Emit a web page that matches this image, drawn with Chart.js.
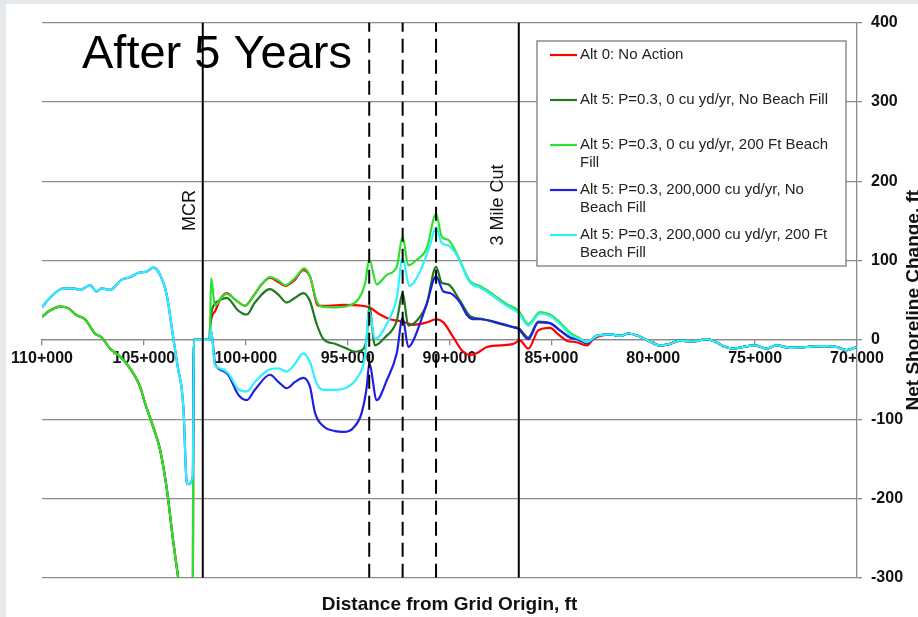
<!DOCTYPE html>
<html>
<head>
<meta charset="utf-8">
<title>Net Shoreline Change - After 5 Years</title>
<script src="https://cdn.jsdelivr.net/npm/chart.js@4.4.1/dist/chart.umd.min.js"></script>
<style>
    html, body { margin: 0; padding: 0; }
    body { width: 918px; height: 617px; background: #e6e9eb; overflow: hidden; }
    #wrap { position: absolute; left: 6px; top: 4px; width: 912px; height: 613px; background: #fff; }
</style>
</head>
<body>
<div id="wrap"><canvas id="shoreChart"></canvas></div>
<script>
// Stations in thousands of feet from grid origin, values = net shoreline change (ft)

// North of the MCR: shared by the 0 cu yd/yr runs (and no action)
const westErosion = [
    [110.0, 29], [109.61, 37], [109.12, 42], [108.71, 40], [108.30, 31], [107.89, 26],
    [107.40, 8], [107.07, 3], [106.66, -11], [106.17, -21], [105.68, -36], [105.19, -59],
    [104.94, -80], [104.62, -104], [104.21, -138], [103.88, -187], [103.56, -254],
    [103.31, -301], [102.79, -400], [102.60, -400], [102.57, 0], [101.77, 0]
];

// North of the MCR: shared by the 200,000 cu yd/yr runs
const westAccretion = [
    [110.0, 41], [109.61, 53], [108.95, 65], [108.46, 65], [108.13, 63], [107.64, 69],
    [107.32, 61], [107.07, 65], [106.66, 63], [106.09, 76], [105.68, 79], [105.19, 85],
    [104.86, 86], [104.54, 91], [104.29, 86], [103.88, 57], [103.56, 3], [103.31, -38],
    [103.15, -60], [103.05, -90], [102.90, -179], [102.82, -182], [102.60, -173],
    [102.54, 0], [101.77, 0]
];

const alt0Main = [
    [101.75, 16], [101.51, 36], [101.26, 51], [100.94, 59], [100.53, 51], [100.04, 43],
    [99.63, 55], [99.22, 70], [98.81, 78], [98.40, 73], [98.07, 68], [97.58, 76],
    [97.18, 88], [96.85, 80], [96.44, 43], [95.95, 43], [95.21, 44], [94.31, 43],
    [93.94, 41], [93.41, 32], [92.92, 26], [92.30, 23], [91.78, 19], [91.12, 22],
    [90.66, 26], [90.30, 22], [89.81, 3], [89.40, -13], [88.99, -19], [88.67, -17],
    [88.17, -9], [87.52, -7], [86.87, -5], [86.54, -1], [86.13, -11], [85.64, 12],
    [85.07, 15], [84.66, 7], [84.25, -1], [83.76, -3], [83.27, -7], [82.94, 1], [82.61, 5]
];

const noFillMain = [
    [101.75, 16], [101.60, 42], [101.34, 49], [100.94, 53], [100.37, 37], [99.95, 32],
    [99.55, 47], [98.81, 64], [98.40, 57], [97.99, 47], [97.58, 53], [97.18, 59],
    [96.85, 49], [96.52, 20], [96.19, 1], [95.62, -5], [95.04, -11], [94.64, -15],
    [94.31, -13], [94.06, 3], [93.94, 43], [93.66, -7], [93.17, 3], [92.59, 24],
    [92.30, 59], [92.02, 18], [91.61, 24], [91.12, 45], [90.66, 92], [90.38, 72],
    [90.06, 70], [89.48, 49], [88.99, 30], [88.34, 26], [87.52, 20], [86.87, 16],
    [86.62, 15], [86.13, 3], [85.64, 23], [85.07, 21], [84.58, 12], [84.09, 3],
    [83.76, 1], [83.27, -4], [82.78, 5]
];

const fillMain = [
    [101.75, 16], [101.70, 78], [101.51, 43], [101.26, 51], [100.94, 58], [100.53, 51],
    [100.04, 43], [99.63, 55], [99.22, 70], [98.81, 79], [98.40, 75], [98.07, 69],
    [97.58, 78], [97.13, 90], [96.85, 80], [96.52, 49], [96.27, 42], [95.62, 41],
    [94.97, 43], [94.48, 51], [94.15, 70], [93.94, 101], [93.57, 70], [93.08, 82],
    [92.59, 92], [92.30, 130], [92.02, 94], [91.61, 101], [91.12, 115], [90.66, 159],
    [90.38, 130], [90.06, 126], [89.65, 109], [88.99, 74], [88.50, 68], [87.85, 57],
    [87.19, 45], [86.62, 37], [86.13, 20], [85.56, 35], [85.07, 32], [84.58, 22],
    [84.09, 9], [83.60, 2], [83.27, -3], [82.78, 5]
];

const bypassNoFillMain = [
    [101.71, 13], [101.51, -30], [101.43, -34], [100.86, -44], [100.37, -69], [99.95, -76],
    [99.55, -63], [98.81, -44], [98.40, -53], [97.99, -61], [97.58, -53], [97.18, -48],
    [96.85, -59], [96.60, -92], [96.19, -109], [95.62, -115], [95.21, -116], [94.72, -111],
    [94.31, -92], [94.06, -59], [93.94, -30], [93.57, -76], [93.08, -51], [92.59, -17],
    [92.30, 28], [92.02, -9], [91.78, -1], [91.12, 45], [90.66, 80], [90.30, 61],
    [89.98, 59], [89.48, 47], [89.16, 32], [88.83, 26], [88.50, 26], [87.52, 21],
    [86.87, 16], [86.62, 14], [86.13, 1], [85.64, 22], [85.07, 21], [84.58, 12],
    [84.09, 3], [83.76, 1], [83.27, -4], [82.78, 5]
];

const bypassFillMain = [
    [101.71, 14], [101.51, -32], [101.26, -36], [100.86, -42], [100.37, -62], [99.95, -65],
    [99.55, -53], [98.89, -38], [98.40, -36], [97.99, -40], [97.58, -30], [97.18, -17],
    [96.85, -28], [96.52, -55], [96.19, -63], [95.62, -63], [94.97, -59], [94.48, -46],
    [94.15, -21], [93.94, 37], [93.66, 1], [93.08, 20], [92.59, 53], [92.30, 103],
    [91.97, 68], [91.45, 86], [90.96, 119], [90.66, 142], [90.38, 122], [90.06, 119],
    [89.65, 107], [88.99, 72], [88.50, 66], [87.85, 55], [87.19, 43], [86.62, 34],
    [86.13, 18], [85.56, 33], [85.07, 30], [84.58, 20], [84.09, 7], [83.60, 1],
    [83.27, -3], [82.78, 5]
];

// South end where all alternatives coincide
const eastTail = [
    [82.12, 7], [81.63, 5], [81.22, 8], [80.65, 4], [80.24, -1], [79.67, -7], [79.18, -5],
    [78.69, -1], [78.03, -2], [77.38, 1], [77.05, -1], [76.56, -8], [76.07, -11],
    [75.41, -8], [75.01, -7], [74.43, -11], [73.94, -7], [73.29, -10], [72.47, -9],
    [71.65, -8], [71.00, -9], [70.51, -13], [70.02, -9]
];

const seriesLabels = [
    'Alt 0: No Action',
    'Alt 5: P=0.3, 0 cu yd/yr, No Beach Fill',
    'Alt 5: P=0.3, 0 cu yd/yr, 200 Ft Beach Fill',
    'Alt 5: P=0.3, 200,000 cu yd/yr, No Beach Fill',
    'Alt 5: P=0.3, 200,000 cu yd/yr, 200 Ft Beach Fill'
];
const seriesRows = [
    [...westErosion, ...alt0Main, ...eastTail],
    [...westErosion, ...noFillMain, ...eastTail],
    [...westErosion, ...fillMain, ...eastTail],
    [...westAccretion, ...bypassNoFillMain, ...eastTail],
    [...westAccretion, ...bypassFillMain, ...eastTail]
];
const seriesColors = ['#ff0000', '#1f7a1f', '#2ee02e', '#1f1fe0', '#2ff0ff'];

// Reference stations: MCR, three dashed structure lines, 3 Mile Cut
const markerStations = [102.11, 93.94, 92.30, 90.66, 86.60];
const markerNames = ['MCR', '', '', '', '3 Mile Cut'];

const yTicks = [-300, -200, -100, 0, 100, 200, 300, 400];
const xTicks = [110, 105, 100, 95, 90, 85, 80, 75, 70];

const FONT = '"Liberation Sans", Arial, sans-serif';
Chart.defaults.font.family = FONT;
Chart.defaults.color = '#111';

const toPoints = rows => rows.map(([x, y]) => ({ x, y }));

const datasets = seriesRows.map((rows, i) => ({
    label: seriesLabels[i],
    data: toPoints(rows),
    borderColor: seriesColors[i],
    borderWidth: 2.2,
    pointRadius: 0,
    cubicInterpolationMode: 'monotone',
    order: seriesRows.length - i
}));

markerStations.forEach((s, i) => {
    datasets.push({
        label: markerNames[i] || 'marker',
        data: [{ x: s, y: yTicks[0] }, { x: s, y: yTicks[yTicks.length - 1] }],
        borderColor: '#000',
        borderWidth: 2,
        borderDash: markerNames[i] ? [] : [14, 7],
        pointRadius: 0,
        order: 0
    });
});

// Wrap a legend label into lines no wider than maxWidth
function wrapLabel(ctx, text, maxWidth) {
    const words = text.split(' ');
    const lines = [];
    let line = '';
    for (const w of words) {
        const test = line ? line + ' ' + w : w;
        if (line && ctx.measureText(test).width > maxWidth) {
            lines.push(line);
            line = w;
        } else {
            line = test;
        }
    }
    lines.push(line);
    return lines;
}

const annotations = {
    id: 'annotations',
    afterDatasetsDraw(chart) {
        const { ctx, scales: { x, y } } = chart;
        ctx.save();

        // Rotated marker names
        ctx.fillStyle = '#111';
        ctx.font = '18px ' + FONT;
        ctx.textAlign = 'center';
        ctx.textBaseline = 'middle';
        const nameSpots = { 'MCR': [-12.7, 163], '3 Mile Cut': [-20.7, 170] };
        markerStations.forEach((s, i) => {
            const name = markerNames[i];
            if (!name) return;
            const [dx, v] = nameSpots[name];
            ctx.save();
            ctx.translate(x.getPixelForValue(s) + dx, y.getPixelForValue(v));
            ctx.rotate(-Math.PI / 2);
            ctx.fillText(name, 0, 0);
            ctx.restore();
        });

        // Panel heading
        ctx.font = '47px ' + FONT;
        ctx.textAlign = 'left';
        ctx.textBaseline = 'alphabetic';
        ctx.fillStyle = '#000';
        ctx.fillText('After 5 Years', 76, 64);

        // Right axis title, reading upward
        ctx.fillStyle = '#111';
        ctx.font = 'bold 19px ' + FONT;
        ctx.textAlign = 'center';
        ctx.textBaseline = 'middle';
        ctx.translate(908, (chart.chartArea.top + chart.chartArea.bottom) / 2);
        ctx.rotate(-Math.PI / 2);
        ctx.fillText('Net Shoreline Change, ft', 0, 0);
        ctx.restore();
    },
    afterDraw(chart) {
        const { ctx } = chart;
        ctx.save();
        const box = { left: 531, top: 37, width: 309, height: 225 };
        ctx.fillStyle = '#fff';
        ctx.fillRect(box.left, box.top, box.width, box.height);
        ctx.strokeStyle = '#8c8c8c';
        ctx.lineWidth = 1.5;
        ctx.strokeRect(box.left, box.top, box.width, box.height);

        ctx.font = '15px ' + FONT;
        ctx.textAlign = 'left';
        ctx.textBaseline = 'middle';
        seriesLabels.forEach((label, i) => {
            const rowY = 51 + i * 45;
            ctx.strokeStyle = seriesColors[i];
            ctx.lineWidth = 2.2;
            ctx.beginPath();
            ctx.moveTo(544, rowY);
            ctx.lineTo(571, rowY);
            ctx.stroke();
            ctx.fillStyle = '#222';
            wrapLabel(ctx, label, 258).forEach((line, j) => {
                ctx.fillText(line, 574, rowY + j * 17.5);
            });
        });
        ctx.restore();
    }
};

const ctx = document.getElementById('shoreChart').getContext('2d');
new Chart(ctx, {
    type: 'line',
    data: { datasets },
    options: {
        responsive: true,
        maintainAspectRatio: false,
        animation: false,
        parsing: false,
        layout: { padding: { left: 36, top: 10, right: 0, bottom: 0.6 } },
        plugins: {
            legend: { display: false },
            tooltip: { enabled: false },
            title: {
                display: true,
                position: 'bottom',
                fullSize: false,
                text: 'Distance from Grid Origin, ft',
                color: '#111',
                font: { size: 19, weight: 'bold' },
                padding: { top: 15.8, bottom: 0 }
            }
        },
        scales: {
            x: {
                type: 'linear',
                position: { y: 0 },
                min: xTicks[xTicks.length - 1],
                max: xTicks[0],
                reverse: true,
                afterFit(scale) { scale.height = 0; },
                afterBuildTicks(scale) { scale.ticks = xTicks.map(v => ({ value: v })); },
                ticks: {
                    autoSkip: false,
                    maxRotation: 0,
                    padding: 4,
                    color: '#111',
                    font: { size: 16, weight: 'bold' },
                    callback: v => v + '+000'
                },
                grid: { drawOnChartArea: false, drawTicks: true, tickLength: 5, color: '#8a8a8a', lineWidth: 1.3 },
                border: { display: true, color: '#8a8a8a', width: 1.3 }
            },
            y: {
                type: 'linear',
                position: 'right',
                min: yTicks[0],
                max: yTicks[yTicks.length - 1],
                afterFit(scale) { scale.width = 61; },
                afterBuildTicks(scale) { scale.ticks = yTicks.map(v => ({ value: v })); },
                ticks: {
                    padding: 9,
                    color: '#111',
                    font: { size: 16, weight: 'bold' }
                },
                grid: { color: '#8a8a8a', lineWidth: 1.3, tickLength: 5 },
                border: { display: true, color: '#8a8a8a', width: 1.3 }
            }
        }
    },
    plugins: [annotations]
});
</script>
</body>
</html>
